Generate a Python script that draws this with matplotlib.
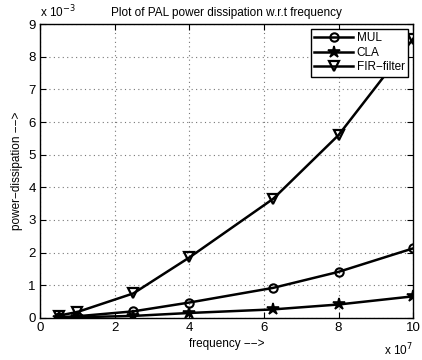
import matplotlib
matplotlib.use('Agg')
import matplotlib.pyplot as plt
from matplotlib.ticker import FuncFormatter

plt.rcParams['font.family'] = ['Liberation Sans', 'DejaVu Sans']

# frequency in Hz, power in W
freq = [0.5e7, 1e7, 2.5e7, 4e7, 6.25e7, 8e7, 10e7]
mul = [0.02e-3, 0.05e-3, 0.20e-3, 0.47e-3, 0.92e-3, 1.41e-3, 2.13e-3]
cla = [0.01e-3, 0.02e-3, 0.06e-3, 0.15e-3, 0.26e-3, 0.41e-3, 0.66e-3]
fir = [0.07e-3, 0.18e-3, 0.75e-3, 1.85e-3, 3.65e-3, 5.60e-3, 8.55e-3]

fig = plt.figure(figsize=(4.22, 3.6), dpi=100)
ax = fig.add_axes([0.095, 0.117, 0.884, 0.816])

ax.plot(freq, mul, color='k', lw=1.8, marker='o', ms=6, fillstyle='none', mew=1.5, label='MUL')
ax.plot(freq, cla, color='k', lw=1.8, marker='*', ms=9, mew=1.2, label='CLA')
ax.plot(freq, fir, color='k', lw=1.8, marker='v', ms=6.5, fillstyle='none', mew=1.6, label='FIR\u2212filter')

ax.set_xlim(0, 10e7)
ax.set_ylim(0, 9e-3)
ax.set_xticks([0, 2e7, 4e7, 6e7, 8e7, 10e7])
ax.set_yticks([i * 1e-3 for i in range(10)])
ax.xaxis.set_major_formatter(FuncFormatter(lambda v, p: '%g' % round(v / 1e7, 6)))
ax.yaxis.set_major_formatter(FuncFormatter(lambda v, p: '%g' % round(v / 1e-3, 6)))
ax.tick_params(direction='in', top=True, right=True, labelsize=9.5, length=4, pad=3)
ax.grid(True, linestyle=(0, (1, 3)), color='#777777', lw=0.8)
for s in ax.spines.values():
    s.set_linewidth(1.0)

ax.text(0.0, 1.012, 'x 10$^{-3}$', transform=ax.transAxes, fontsize=8.5, ha='left', va='bottom')
ax.text(1.0, -0.08, 'x 10$^{7}$', transform=ax.transAxes, fontsize=8.5, ha='right', va='top')

ax.set_title('Plot of PAL power dissipation w.r.t frequency', fontsize=8.5, pad=6)
ax.set_xlabel('frequency \u2212\u2212>', fontsize=8.5, labelpad=3)
ax.set_ylabel('power\u2212dissipation \u2212\u2212>', fontsize=8.5, labelpad=4)

leg = ax.legend(loc='upper right', fontsize=8.5, fancybox=False, framealpha=1,
                edgecolor='k', borderpad=0.3, labelspacing=0.2, handlelength=3.3,
                handletextpad=0.3, borderaxespad=0.4)
leg.get_frame().set_linewidth(1.0)

fig.savefig('out.png', dpi=100)
